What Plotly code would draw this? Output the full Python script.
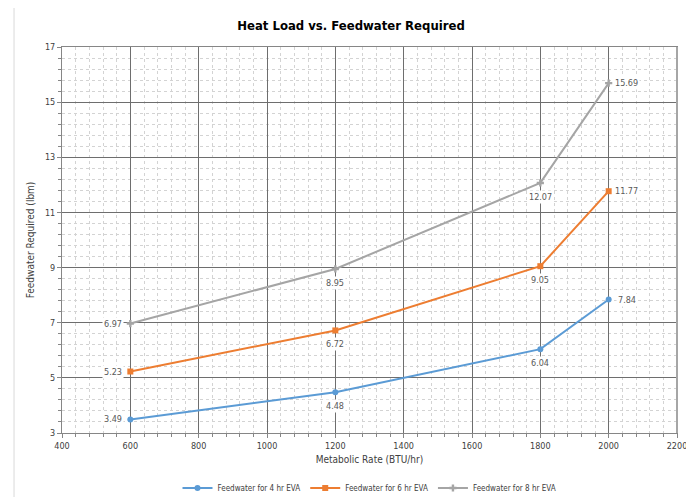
import plotly.graph_objects as go

metabolic_rate = [600, 1200, 1800, 2000]
fw_4hr = [3.49, 4.48, 6.04, 7.84]
fw_6hr = [5.23, 6.72, 9.05, 11.77]
fw_8hr = [6.97, 8.95, 12.07, 15.69]
series_names = ["Feedwater for 4 hr EVA", "Feedwater for 6 hr EVA", "Feedwater for 8 hr EVA"]
colors = ["#5B9BD5", "#ED7D31", "#A5A5A5"]
symbols = ["circle", "square", "cross"]
# label positions per point: l = left, b = below, r = right
label_pos = ["l", "b", "b", "r"]

FONT = "DejaVu Sans Condensed, Liberation Sans Narrow, sans-serif"

fig = go.Figure()
for name, ys, c, s in zip(series_names, [fw_4hr, fw_6hr, fw_8hr], colors, symbols):
    fig.add_trace(go.Scatter(
        x=metabolic_rate, y=ys, name=name, mode="lines+markers",
        line=dict(color=c, width=2),
        marker=dict(color=c, symbol=s, size=6, line=dict(width=0)),
    ))
    for xv, yv, p in zip(metabolic_rate, ys, label_pos):
        shift = {"l": dict(xshift=-17, yshift=0), "b": dict(xshift=0, yshift=-14),
                 "r": dict(xshift=18, yshift=0)}[p]
        fig.add_annotation(x=xv, y=yv, xref="x", yref="y", text=f"{yv:.2f}",
                           showarrow=False, bgcolor="white", borderpad=1,
                           font=dict(family=FONT, size=9, color="#595959"), **shift)

# outer chart frame
fig.add_shape(type="rect", xref="paper", yref="paper", x0=-0.078, x1=1.2, y0=-0.5, y1=1.1036,
              line=dict(color="#D9D9D9", width=1), layer="below")

grid_major = "#6E6E6E"
grid_minor = "#D3D3D3"
fig.update_layout(
    width=686, height=489,
    margin=dict(l=54, r=17, t=39, b=64, autoexpand=False),
    paper_bgcolor="white", plot_bgcolor="white",
    title=dict(text="<b>Heat Load vs. Feedwater Required</b>", x=0.5, xanchor="center",
               y=0.965, yanchor="middle", font=dict(family=FONT, size=13, color="#000000")),
    font=dict(family=FONT, size=9, color="#404040"),
    showlegend=True,
    legend=dict(orientation="h", x=0.5, xanchor="center", y=0.0184, yref="container",
                yanchor="middle", font=dict(family=FONT, size=8, color="#404040"),
                itemwidth=30),
    xaxis=dict(range=[400, 2200], tick0=400, dtick=200, showgrid=True, gridcolor=grid_major,
               gridwidth=1, showline=True, linecolor="#868686", linewidth=1, mirror=True,
               ticks="outside", ticklen=4, tickcolor="#868686", zeroline=False,
               tickfont=dict(family=FONT, size=9, color="#404040"),
               title=dict(text="Metabolic Rate (BTU/hr)", standoff=6,
                          font=dict(family=FONT, size=10, color="#404040")),
               minor=dict(dtick=40, tick0=400, showgrid=True, gridcolor=grid_minor,
                          griddash="dot", gridwidth=1, ticks="outside", ticklen=3,
                          tickcolor="#868686")),
    yaxis=dict(range=[3, 17], tick0=3, dtick=2, showgrid=True, gridcolor=grid_major,
               gridwidth=1, showline=True, linecolor="#868686", linewidth=1, mirror=True,
               ticks="outside", ticklen=4, tickcolor="#868686", zeroline=False,
               tickfont=dict(family=FONT, size=9, color="#404040"),
               title=dict(text="Feedwater Required (lbm)", standoff=8,
                          font=dict(family=FONT, size=10, color="#404040")),
               minor=dict(dtick=0.4, tick0=3, showgrid=True, gridcolor=grid_minor,
                          griddash="dot", gridwidth=1, ticks="outside", ticklen=3,
                          tickcolor="#868686")),
)
fig.add_shape(type="line", xref="paper", yref="paper", x0=1, x1=1, y0=0, y1=1,
              line=dict(color="#A6A6A6", width=2))

fig.write_html("out.html")
